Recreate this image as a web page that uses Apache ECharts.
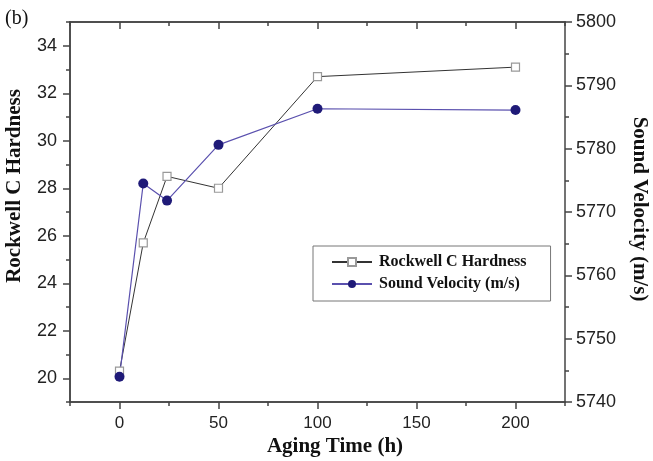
<!DOCTYPE html>
<html>
<head>
<meta charset="utf-8">
<script src="https://cdn.jsdelivr.net/npm/echarts@6/dist/echarts.min.js"></script>
<style>html,body{margin:0;padding:0;background:#fff;}#c{width:653px;height:461px;}</style>
</head>
<body>
<div id="c"></div>
<script>
const agingTime = [0, 12, 24, 50, 100, 200];
const hardness = [20.3, 25.7, 28.5, 28.0, 32.7, 33.1];
const velocity = [5744, 5774.5, 5771.8, 5780.6, 5786.3, 5786.1];
const xTicks = [0, 50, 100, 150, 200];
const hardTicks = [20, 22, 24, 26, 28, 30, 32, 34];

const chart = echarts.init(document.getElementById('c'), null, {renderer: 'canvas'});
const axisCol = '#444';
const labelStyle = {color: '#222', fontFamily: 'Liberation Sans', fontSize: 17};
const yLabelStyle = {color: '#222', fontFamily: 'Liberation Sans', fontSize: 18};
const gridPos = {left: 70, right: 88, top: 22, bottom: 59, containLabel: false};
const base = {type: 'value', splitLine: {show: false}, axisLine: {show: true, onZero: false, lineStyle: {color: axisCol, width: 1.5}}};

chart.setOption({
  animation: false,
  backgroundColor: '#fff',
  grid: [Object.assign({}, gridPos), Object.assign({}, gridPos)],
  xAxis: [
    Object.assign({}, base, {gridIndex: 0, position: 'bottom', min: -25, max: 225, interval: 25,
      axisTick: {show: true, length: 7, customValues: xTicks, lineStyle: {color: axisCol, width: 1.5}},
      axisLabel: {show: true, margin: 13, customValues: xTicks, ...labelStyle}}),
    Object.assign({}, base, {gridIndex: 0, position: 'top', min: -25, max: 225, interval: 25,
      axisTick: {show: true, inside: true, length: 7, customValues: xTicks, lineStyle: {color: axisCol, width: 1.5}},
      axisLabel: {show: false}}),
    Object.assign({}, base, {gridIndex: 1, position: 'bottom', min: -25, max: 225, interval: 50,
      axisTick: {show: true, length: 4, lineStyle: {color: axisCol, width: 1.5}},
      axisLabel: {show: false}}),
    Object.assign({}, base, {gridIndex: 1, position: 'top', min: -25, max: 225, interval: 50,
      axisTick: {show: true, inside: true, length: 4, lineStyle: {color: axisCol, width: 1.5}},
      axisLabel: {show: false}})
  ],
  yAxis: [
    Object.assign({}, base, {gridIndex: 0, position: 'left', min: 19, max: 35, interval: 1,
      axisTick: {show: true, length: 7, customValues: hardTicks, lineStyle: {color: axisCol, width: 1.5}},
      axisLabel: {show: true, margin: 13, customValues: hardTicks, ...yLabelStyle}}),
    Object.assign({}, base, {gridIndex: 0, position: 'right', min: 5740, max: 5800, interval: 10,
      axisTick: {show: true, length: 7, lineStyle: {color: axisCol, width: 1.5}},
      minorTick: {show: true, splitNumber: 2, length: 4, lineStyle: {color: axisCol, width: 1.5}},
      axisLabel: {show: true, margin: 11, formatter: v => String(v), ...yLabelStyle}}),
    Object.assign({}, base, {gridIndex: 1, position: 'left', min: 19, max: 35, interval: 2,
      axisTick: {show: true, length: 4, lineStyle: {color: axisCol, width: 1.5}},
      axisLabel: {show: false}})
  ],
  legend: {
    left: 313, top: 246, orient: 'vertical',
    borderColor: '#777', borderWidth: 1,
    padding: [8, 24, 9, 18],
    itemWidth: 40, itemHeight: 10, itemGap: 6,
    textStyle: {fontFamily: 'Liberation Serif', fontWeight: 'bold', fontSize: 16, color: '#111', padding: [0, 0, 0, 2]},
    data: ['Rockwell C Hardness', 'Sound Velocity (m/s)']
  },
  series: [
    {
      name: 'Rockwell C Hardness', type: 'line', xAxisIndex: 0, yAxisIndex: 0,
      data: agingTime.map((t, i) => [t, hardness[i]]),
      symbol: 'rect', symbolSize: 8,
      lineStyle: {color: '#333', width: 1},
      itemStyle: {color: '#fff', borderColor: '#999', borderWidth: 1.2}
    },
    {
      name: 'Sound Velocity (m/s)', type: 'line', xAxisIndex: 0, yAxisIndex: 1,
      data: agingTime.map((t, i) => [t, velocity[i]]),
      symbol: 'circle', symbolSize: 10,
      lineStyle: {color: '#5a50ae', width: 1.2},
      itemStyle: {color: '#1f1a78', borderWidth: 0}
    }
  ],
  graphic: [
    {type: 'text', left: 5, top: 9, style: {text: '(b)', font: '20px "Liberation Serif"', fill: '#111'}},
    {type: 'text', x: 335, y: 447, style: {text: 'Aging Time (h)', font: 'bold 21px "Liberation Serif"', fill: '#111', textAlign: 'center', textVerticalAlign: 'middle'}},
    {type: 'text', x: 15, y: 186, rotation: Math.PI / 2, style: {text: 'Rockwell C Hardness', font: 'bold 21px "Liberation Serif"', fill: '#111', textAlign: 'center', textVerticalAlign: 'middle'}},
    {type: 'text', x: 639, y: 209, rotation: -Math.PI / 2, style: {text: 'Sound Velocity (m/s)', font: 'bold 21px "Liberation Serif"', fill: '#111', textAlign: 'center', textVerticalAlign: 'middle'}}
  ]
});
</script>
</body>
</html>
